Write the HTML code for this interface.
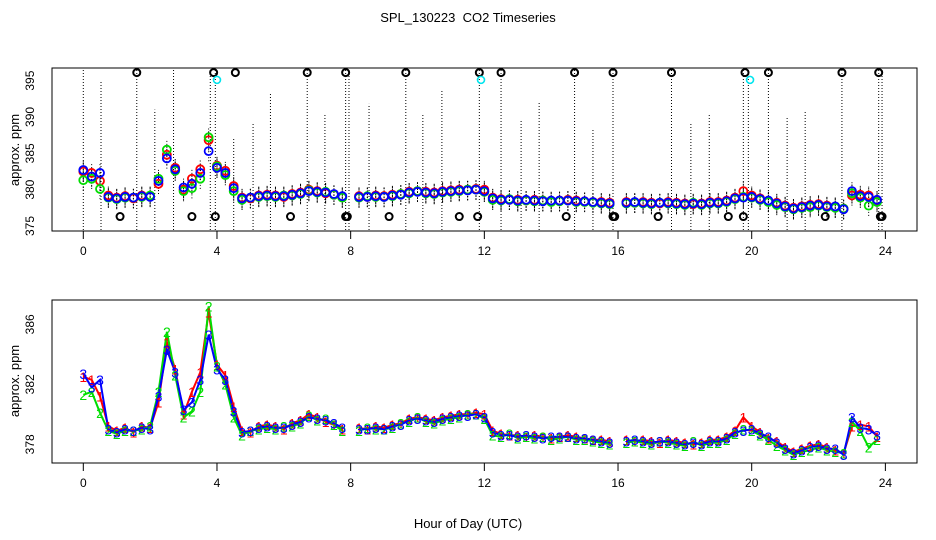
<!DOCTYPE html>
<html><head><meta charset="utf-8"><style>
html,body{margin:0;padding:0;background:#fff;}
svg{display:block;font-family:"Liberation Sans",sans-serif;}
</style></head><body>
<svg id="chart" width="936" height="540" viewBox="0 0 936 540">
<text x="468" y="22" text-anchor="middle" font-size="13">SPL_130223&#160; CO2 Timeseries</text>
<text x="468" y="528" text-anchor="middle" font-size="13">Hour of Day (UTC)</text>
<text transform="translate(19,150) rotate(-90)" text-anchor="middle" font-size="13">approx. ppm</text>
<text transform="translate(19,381) rotate(-90)" text-anchor="middle" font-size="13">approx. ppm</text>
<g id="topPanel"></g>
<g id="botPanel"></g>
</svg>
<script>
const xTicks=[0,4,8,12,16,20,24];
const topYTicks=[375,380,385,390,395];
const botYTicks=[378,380,382,384,386];
const botYLabels=["378","","382","","386"];
const step=0.25;
const blue=[382.7,381.8,382.3,379.0,378.8,379.0,378.9,379.1,379.0,381.2,384.3,382.8,380.3,380.8,382.3,385.3,383.0,382.3,380.2,378.8,378.9,379.1,379.2,379.1,379.1,379.3,379.5,379.8,379.7,379.6,379.4,379.1,null,379.0,379.0,379.1,379.0,379.2,379.3,379.6,379.7,379.6,379.5,379.7,379.8,379.9,379.9,380.0,379.8,378.8,378.6,378.6,378.5,378.6,378.5,378.4,378.5,378.5,378.5,378.4,378.4,378.3,378.2,378.1,null,378.2,378.3,378.2,378.1,378.2,378.2,378.1,378.0,378.1,378.0,378.2,378.2,378.4,378.8,378.9,379.0,378.7,378.5,378.1,377.7,377.4,377.6,377.8,377.9,377.7,377.7,377.3,379.8,379.1,379.0,378.6,null];
const red=[382.5,382.3,381.2,379.2,378.9,379.1,378.8,379.2,379.1,380.8,384.8,383.0,380.0,381.5,382.8,386.8,383.3,382.6,380.5,378.9,378.8,379.2,379.3,379.2,379.0,379.4,379.6,380.0,379.8,379.5,379.3,379.0,null,379.1,379.0,379.2,379.1,379.3,379.4,379.7,379.8,379.7,379.6,379.8,379.9,380.0,380.0,380.1,380.0,378.9,378.7,378.6,378.6,378.5,378.6,378.5,378.4,378.5,378.6,378.5,378.4,378.3,378.3,378.2,null,378.3,378.2,378.3,378.2,378.1,378.3,378.2,378.1,378.0,378.1,378.3,378.3,378.5,378.9,379.8,379.2,378.8,378.4,378.2,377.8,377.5,377.7,377.9,378.0,377.8,377.6,377.4,379.2,379.3,379.2,378.5,null];
const green=[381.3,381.5,380.1,378.9,378.7,378.9,378.9,379.0,379.2,381.5,385.5,382.6,379.8,380.2,381.5,387.2,383.2,382.0,379.8,378.6,378.9,379.0,379.1,379.0,379.2,379.2,379.4,379.9,379.6,379.7,379.3,378.9,null,378.9,379.1,379.0,379.0,379.1,379.4,379.5,379.8,379.5,379.4,379.6,379.7,379.8,380.0,380.0,379.7,378.6,378.5,378.7,378.4,378.5,378.4,378.5,378.3,378.4,378.5,378.3,378.3,378.2,378.1,378.0,null,378.1,378.2,378.1,378.0,378.2,378.1,378.0,377.9,378.2,377.9,378.1,378.1,378.3,378.7,379.0,378.9,378.6,378.3,377.9,377.6,377.3,377.5,377.6,377.8,377.6,377.5,377.4,379.5,378.9,377.8,378.3,null];
const spikeHours=[0,0.53,1.6,2.14,2.7,3.8,3.95,4.5,5.08,5.6,6.7,7.23,7.85,7.95,8.55,9.65,10.16,10.73,11.85,12.5,13.1,13.64,14.7,15.25,15.85,17.6,18.18,18.73,19.75,19.9,20.5,21.06,21.6,22.7,23.8,23.9];
const spikeTops=[396.5,395,396.5,391,396.5,396.5,396.5,387,389.3,393.4,396.5,390.5,396.5,396.5,391.8,396.5,390.3,393.8,396.5,396.5,389.6,392.2,396.5,388.3,396.5,396.5,389.2,390.3,396.5,396.5,396.5,390,390.8,396.5,396.5,396.5];
const highOutHours=[1.6,3.9,4.55,6.7,7.85,9.65,11.85,12.5,14.7,15.85,17.6,19.8,20.5,22.7,23.8];
const lowOutHours=[1.1,3.25,3.95,6.2,7.85,7.9,9.15,11.25,11.8,14.45,15.85,15.9,17.2,19.3,19.75,22.2,23.85,23.9];
const cyanHours=[4.0,11.9,19.95];
const cyanVals=[395.1,395.1,395.1];

const NS="http://www.w3.org/2000/svg";
function mk(p,tag,attrs){const e=document.createElementNS(NS,tag);for(const k in attrs)e.setAttribute(k,attrs[k]);p.appendChild(e);return e;}
const X=h=>83.3+h*33.42;
const YT=v=>226-(v-375)*7.27;
const YB=v=>444.3-(v-378)*15;
const gTop=document.getElementById('topPanel'),gBot=document.getElementById('botPanel');

function frame(g,y0,y1,name){
  const r=mk(g,'rect',{x:52,y:y0,width:865,height:y1-y0,fill:'none',stroke:'#000','stroke-width':1});
  
  
  xTicks.forEach(t=>{
    const l=mk(g,'line',{x1:X(t),x2:X(t),y1:y1,y2:y1+8,stroke:'#000'});
    
    
    const tx=mk(g,'text',{x:X(t),y:y1+24,'text-anchor':'middle','font-size':12});
    tx.textContent=t;
    
    
  });
}
frame(gTop,68,231,'top');
frame(gBot,300,463,'bottom');
topYTicks.forEach(v=>{
  const t=mk(gTop,'text',{transform:`translate(34,${YT(v)}) rotate(-90)`,'text-anchor':'middle','font-size':12});
  t.textContent=v;
  
  
});
botYTicks.forEach((v,i)=>{
  if(!botYLabels[i])return;
  const t=mk(gBot,'text',{transform:`translate(34,${YB(v)}) rotate(-90)`,'text-anchor':'middle','font-size':12});
  t.textContent=botYLabels[i];
  
  
});

spikeHours.forEach((h,i)=>{
  const l=mk(gTop,'line',{x1:X(h),x2:X(h),y1:230,y2:Math.max(69,YT(spikeTops[i])),stroke:'#000','stroke-width':1,'stroke-dasharray':'1 2'});
  
  
});
[red,green,blue].forEach(s=>s.forEach((v,i)=>{
  if(v==null)return;
  const l=mk(gTop,'line',{x1:X(i*step),x2:X(i*step),y1:YT(v-1.4),y2:YT(v+1.4),stroke:'#000','stroke-width':1,'stroke-dasharray':'1 2'});
  
  
}));
highOutHours.forEach(h=>{
  const c=mk(gTop,'circle',{cx:X(h),cy:YT(396.1),r:3.5,fill:'none',stroke:'#000','stroke-width':2});
  
  
});
lowOutHours.forEach(h=>{
  const c=mk(gTop,'circle',{cx:X(h),cy:YT(376.3),r:3.5,fill:'none',stroke:'#000','stroke-width':2});
  
  
});
cyanHours.forEach((h,i)=>{
  const c=mk(gTop,'circle',{cx:X(h),cy:YT(cyanVals[i]),r:3.5,fill:'none',stroke:'#00e5ee','stroke-width':1.6});
  
  
});
const series=[[red,'#ff0000','1'],[green,'#00dd00','2'],[blue,'#0000ff','3']];
series.forEach(([s,col,lab])=>s.forEach((v,i)=>{
  if(v==null)return;
  const c=mk(gTop,'circle',{cx:X(i*step),cy:YT(v),r:4,fill:'none',stroke:col,'stroke-width':1.8});
  
  
}));
series.forEach(([s,col,lab])=>{
  let d='',pen=false;
  s.forEach((v,i)=>{
    if(v==null){pen=false;return;}
    d+=(pen?'L':'M')+X(i*step).toFixed(1)+','+YB(v).toFixed(1);pen=true;
  });
  const p=mk(gBot,'path',{d:d,fill:'none',stroke:col,'stroke-width':2});
  
  
});
series.forEach(([s,col,lab])=>s.forEach((v,i)=>{
  if(v==null)return;
  const t=mk(gBot,'text',{x:X(i*step),y:YB(v)+5,'text-anchor':'middle','font-size':14,fill:col});
  t.textContent=lab;
  
  
}));
</script>
</body></html>
